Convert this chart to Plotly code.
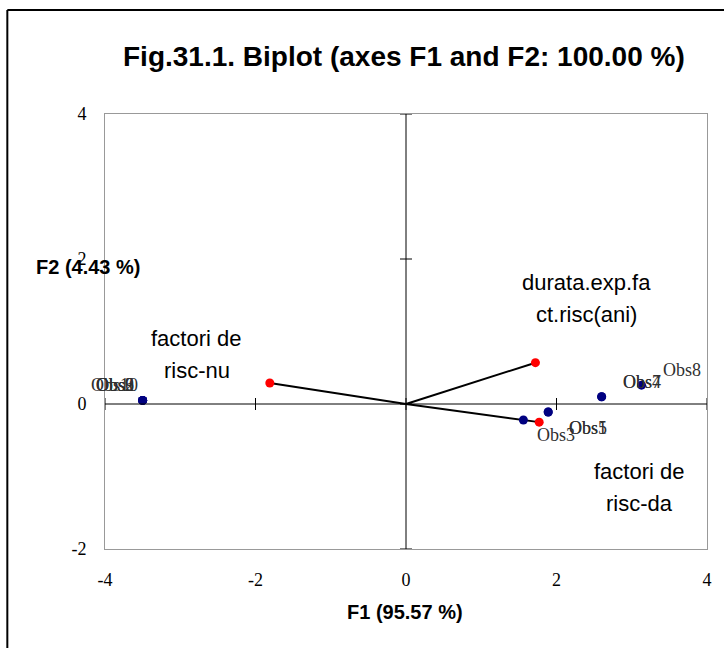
import plotly.graph_objects as go

# ---- data ----
obs_names = ["Obs1", "Obs2", "Obs3", "Obs4", "Obs5", "Obs6", "Obs7", "Obs8", "Obs9", "Obs10"]
obs_f1 = [1.89, -3.50, 1.56, 2.60, 1.89, -3.50, 2.60, 3.13, -3.50, -3.50]
obs_f2 = [-0.11, 0.05, -0.22, 0.10, -0.11, 0.05, 0.10, 0.26, 0.05, 0.05]

var_names = ["factori de risc-nu", "durata.exp.fact.risc(ani)", "factori de risc-da"]
var_lines = [["factori de", "risc-nu"], ["durata.exp.fa", "ct.risc(ani)"], ["factori de", "risc-da"]]
var_f1 = [-1.81, 1.72, 1.77]
var_f2 = [0.29, 0.57, -0.25]

x_ticks = [-4, -2, 0, 2, 4]
y_ticks = [-2, 0, 2, 4]

title = "Fig.31.1. Biplot (axes F1 and F2: 100.00 %)"
x_title = "F1 (95.57 %)"
y_title = "F2 (4.43 %)"

# ---- figure ----
W, H = 724, 648
L, R, T, B = 105, 709, 114, 549  # plot area in pixels
PW, PH = R - L, B - T


def px(x):
    return (x - L) / PW


def py(y):
    return (B - y) / PH


fig = go.Figure()

for vx, vy in zip(var_f1, var_f2):
    fig.add_trace(go.Scatter(x=[0, vx], y=[0, vy], mode="lines",
                             line=dict(color="black", width=2), hoverinfo="skip",
                             showlegend=False))

fig.add_trace(go.Scatter(x=obs_f1, y=obs_f2, mode="markers",
                         marker=dict(color="#000080", size=9),
                         text=obs_names, showlegend=False))
fig.add_trace(go.Scatter(x=var_f1, y=var_f2, mode="markers",
                         marker=dict(color="#ff0000", size=9),
                         text=var_names, showlegend=False))

serif = "Liberation Serif, Times New Roman, serif"
sans = "Liberation Sans, Arial, sans-serif"

annotations = []
for name, ox, oy in zip(obs_names, obs_f1, obs_f2):
    if ox < 0:
        dx, dy = -28, 15
    elif oy < 0:
        dx, dy = (33, -15) if name == "Obs3" else (40, -16)
    else:
        dx, dy = 40, 15
    annotations.append(dict(x=ox, y=oy, xref="x", yref="y", text=name,
                            showarrow=False, xshift=dx, yshift=dy,
                            font=dict(family=serif, size=18, color="#303030")))

var_off = [(-73, 28), (51, 64), (100, -65)]
for lines, vx, vy, (dx, dy) in zip(var_lines, var_f1, var_f2, var_off):
    for i, ln in enumerate(lines):
        annotations.append(dict(x=vx, y=vy, xref="x", yref="y", text=ln,
                                showarrow=False, xshift=dx, yshift=dy + (16 if i == 0 else -16),
                                font=dict(family=sans, size=22, color="black")))

annotations.append(dict(x=px(88), y=py(267), xref="paper", yref="paper",
                        xanchor="center", yanchor="middle",
                        text="<b>" + y_title + "</b>", showarrow=False,
                        font=dict(family=sans, size=20, color="black")))
annotations.append(dict(x=px(406), y=py(612), xref="paper", yref="paper",
                        xanchor="center", yanchor="middle",
                        text="<b>" + x_title + "</b>", showarrow=False,
                        font=dict(family=sans, size=20, color="black")))
annotations.append(dict(x=px(405), y=py(56), xref="paper", yref="paper",
                        xanchor="center", yanchor="middle",
                        text="<b>" + title + "</b>", showarrow=False,
                        font=dict(family=sans, size=28, color="black")))

shapes = []
shapes.append(dict(type="line", xref="x", yref="y", x0=0, x1=0, y0=-2, y1=4,
                   line=dict(color="black", width=1)))
shapes.append(dict(type="line", xref="x", yref="y", x0=-4, x1=4, y0=0, y1=0,
                   line=dict(color="black", width=1)))
for t in y_ticks:
    shapes.append(dict(type="line", xref="x", yref="y", xsizemode="pixel", xanchor=0,
                       x0=-6, x1=6, y0=t, y1=t, line=dict(color="black", width=1)))
for t in x_ticks:
    shapes.append(dict(type="line", xref="x", yref="y", ysizemode="pixel", yanchor=0,
                       x0=t, x1=t, y0=-6, y1=6, line=dict(color="black", width=1)))

# outer frame (left and top edges)
shapes.append(dict(type="line", xref="paper", yref="paper",
                   x0=px(7), x1=px(7), y0=py(660), y1=py(10),
                   line=dict(color="black", width=2)))
shapes.append(dict(type="line", xref="paper", yref="paper",
                   x0=px(7), x1=px(730), y0=py(10), y1=py(10),
                   line=dict(color="black", width=2)))

fig.update_layout(
    width=W, height=H,
    margin=dict(l=L, r=W - R, t=T, b=H - B),
    paper_bgcolor="white", plot_bgcolor="white",
    xaxis=dict(range=[-4, 4], tickvals=x_ticks, ticktext=[str(v) for v in x_ticks],
               showgrid=False, zeroline=False, showline=True, mirror=True,
               linecolor="#999999", linewidth=1, ticks="", ticklabelstandoff=14,
               tickfont=dict(family=serif, size=18, color="black")),
    yaxis=dict(range=[-2, 4], tickvals=y_ticks, ticktext=[str(v) for v in y_ticks],
               showgrid=False, zeroline=False, showline=True, mirror=True,
               linecolor="#999999", linewidth=1, ticks="", ticklabelstandoff=14,
               tickfont=dict(family=serif, size=18, color="black")),
    annotations=annotations,
    shapes=shapes,
    showlegend=False,
)

fig.write_html("out.html")
